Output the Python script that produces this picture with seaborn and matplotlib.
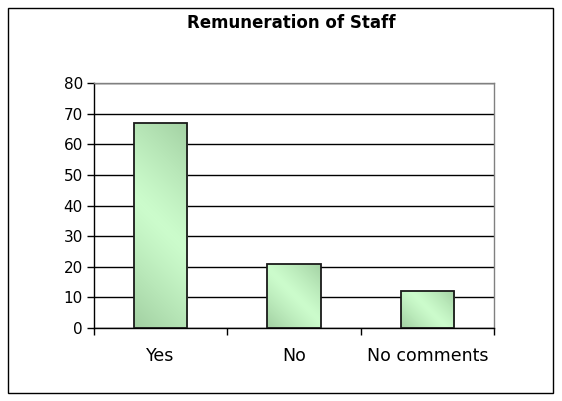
import numpy as np
import pandas as pd
import matplotlib
matplotlib.use("Agg")
import matplotlib.pyplot as plt
import seaborn as sns
from matplotlib.patches import Rectangle
from matplotlib.colors import LinearSegmentedColormap

categories = ["Yes", "No", "No comments"]
values = [67, 21, 12]
yticks = [0, 10, 20, 30, 40, 50, 60, 70, 80]
title = "Remuneration of Staff"

sns.set_theme(style="white")
plt.rcParams['font.family'] = ['DejaVu Sans']

fig = plt.figure(figsize=(5.62, 4.01), dpi=100)
ax = fig.add_axes([94/562, (401-328)/401, 400/562, 245/401])

df = pd.DataFrame({"cat": categories, "val": values})
sns.barplot(data=df, x="cat", y="val", ax=ax, width=0.4, color="#ccffcc",
            edgecolor="#1a1a1a", linewidth=1.3, saturation=1)

ax.set_xlim(-0.5, 2.5)
ax.set_ylim(0, 80)

cmap = LinearSegmentedColormap.from_list("g", ["#ccfccc", "#a2d0a2"])
fig.canvas.draw()
for p in ax.patches:
    x0, y0 = p.get_x(), p.get_y()
    w, h = p.get_width(), p.get_height()
    (px0, py0), (px1, py1) = ax.transData.transform([(x0, y0), (x0 + w, y0 + h)])
    wp, hp = max(int(abs(px1 - px0)), 2), max(int(abs(py1 - py0)), 2)
    uu, vv = np.meshgrid(np.arange(wp), np.arange(hp))
    half = (wp + hp) / 2.0
    grad = np.abs(uu + vv - half) / half
    grad = grad ** 1.2
    p.set_facecolor("none")
    p.set_zorder(3)
    im = ax.imshow(grad, cmap=cmap, vmin=0, vmax=1, extent=[x0, x0 + w, y0, y0 + h],
                   origin="lower", aspect="auto", zorder=2, interpolation="bilinear")
    im.set_clip_path(p)

ax.set_xlim(-0.5, 2.5)
ax.set_ylim(0, 80)
ax.set_yticks(yticks)
ax.yaxis.grid(True, color="black", linewidth=1)
ax.set_axisbelow(True)
ax.set_xlabel("")
ax.set_ylabel("")

ax.set_xticks([0, 1, 2])
ax.set_xticklabels(categories)
ax.set_xticks([-0.5, 0.5, 1.5, 2.5], minor=True)
ax.tick_params(axis="x", which="major", length=0, pad=14, labelsize=12.5, colors="black")
ax.tick_params(axis="x", which="minor", length=5, width=1, color="black", direction="out", bottom=True)
ax.tick_params(axis="y", length=5, width=1, color="black", direction="out", left=True,
               labelsize=11, pad=3, labelcolor="black")

for s in ["left", "bottom"]:
    ax.spines[s].set_color("black")
    ax.spines[s].set_linewidth(1)
for s in ["top", "right"]:
    ax.spines[s].set_color("#808080")
    ax.spines[s].set_linewidth(1)
    ax.spines[s].set_visible(True)

fig.text(291/562, 1 - 23/401, title, ha="center", va="center",
         fontsize=12, fontweight="bold", color="black")

fig.patches.append(Rectangle((8/562, 8/401), 545/562, 385/401, transform=fig.transFigure,
                             fill=False, edgecolor="black", linewidth=1))

fig.savefig("out.png", dpi=100)
